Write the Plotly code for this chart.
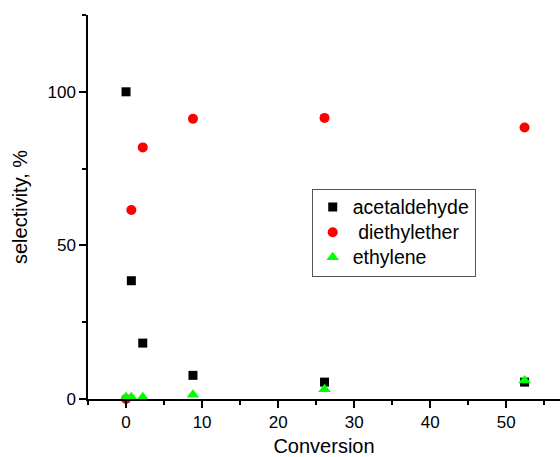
import plotly.graph_objects as go

conversion = [0, 0.7, 2.2, 8.8, 26.1, 52.4]
acetaldehyde = [100, 38.5, 18.2, 7.7, 5.5, 5.5]
diethylether = [0, 61.5, 81.9, 91.2, 91.5, 88.4]
ethylene = [0.6, 0.6, 0.6, 1.4, 3.2, 6.0]

names = ["acetaldehyde", " diethylether", "ethylene"]


def legend_label(s):
    return '<span style="font-size:19.5px">' + s + '</span>'


fig = go.Figure()
fig.add_trace(go.Scatter(x=conversion, y=acetaldehyde, mode="markers", name=legend_label(names[0]),
                         marker=dict(symbol="square", size=9, color="black"), cliponaxis=False))
fig.add_trace(go.Scatter(x=conversion, y=diethylether, mode="markers", name=legend_label(names[1]),
                         marker=dict(symbol="circle", size=10, color="#ff0000"), cliponaxis=False))
fig.add_trace(go.Scatter(x=conversion, y=ethylene, mode="markers", name=legend_label(names[2]),
                         marker=dict(symbol="triangle-up", size=11, color="#00ff00"), cliponaxis=False))

font = "Arial, 'Liberation Sans', sans-serif"
axis_common = dict(
    showgrid=False, zeroline=False, showline=True, linecolor="black", linewidth=1.5,
    ticks="outside", ticklen=7, tickwidth=1.5, tickcolor="black",
    tickfont=dict(family=font, size=17, color="black"),
)
fig.update_xaxes(range=[-5, 57.06], dtick=10, tick0=0,
                 minor=dict(dtick=5, tick0=0, ticks="outside", ticklen=4, tickwidth=1.5, tickcolor="black"),
                 title=dict(text="Conversion", font=dict(family=font, size=20, color="black"), standoff=10),
                 **axis_common)
fig.update_yaxes(range=[0, 125], dtick=50, tick0=0,
                 minor=dict(dtick=25, tick0=0, ticks="outside", ticklen=4, tickwidth=1.5, tickcolor="black"),
                 title=dict(text="selectivity, %", font=dict(family=font, size=20, color="black"), standoff=14),
                 **axis_common)

fig.update_layout(
    width=560, height=457,
    margin=dict(l=88, r=0, t=15, b=58),
    paper_bgcolor="white", plot_bgcolor="white",
    showlegend=True,
    legend=dict(x=0.474, y=0.548, xanchor="left", yanchor="top",
                bgcolor="white", bordercolor="#555555", borderwidth=1,
                font=dict(family=font, size=17, color="black")),
)

fig.write_html("out.html")
